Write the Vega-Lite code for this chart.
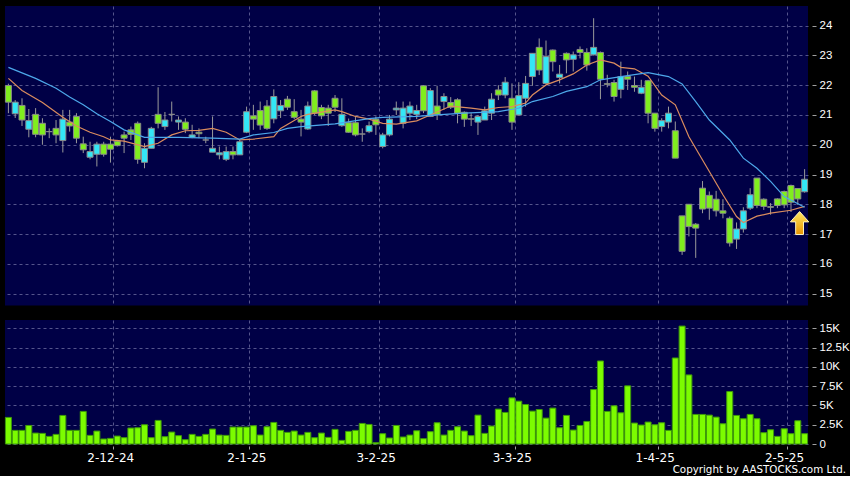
{
  "$schema": "https://vega.github.io/schema/vega-lite/v6.json",
  "background": "#000000",
  "padding": {"left": 4, "top": 6, "right": 0, "bottom": 0},
  "config": {
    "view": {"fill": "#000046", "stroke": null},
    "font": "DejaVu Sans",
    "axis": {"labelColor": "#ffffff", "labelFont": "DejaVu Sans", "labelFontSize": 11, "gridColor": "#55558c", "gridDash": [3, 3], "gridWidth": 1, "tickColor": "#a0a0a0", "domain": false}
  },
  "datasets": {
    "candles": [
      {"date": "2024-11-08", "o": 21.99, "h": 22.05, "l": 21.06, "c": 21.43, "v": 3450},
      {"date": "2024-11-11", "o": 21.04, "h": 21.5, "l": 20.9, "c": 21.43, "v": 1770},
      {"date": "2024-11-12", "o": 21.32, "h": 21.56, "l": 20.63, "c": 20.83, "v": 1770},
      {"date": "2024-11-13", "o": 20.52, "h": 21.2, "l": 20.25, "c": 20.81, "v": 2410},
      {"date": "2024-11-14", "o": 21.02, "h": 21.23, "l": 20.25, "c": 20.35, "v": 1420},
      {"date": "2024-11-15", "o": 20.72, "h": 20.89, "l": 20.0, "c": 20.33, "v": 1380},
      {"date": "2024-11-18", "o": 20.44, "h": 20.55, "l": 20.22, "c": 20.44, "v": 990},
      {"date": "2024-11-19", "o": 20.55, "h": 20.83, "l": 20.05, "c": 20.33, "v": 1250},
      {"date": "2024-11-20", "o": 20.14, "h": 21.17, "l": 19.74, "c": 20.86, "v": 3710},
      {"date": "2024-11-21", "o": 20.76, "h": 21.17, "l": 20.44, "c": 20.63, "v": 1770},
      {"date": "2024-11-22", "o": 20.95, "h": 21.06, "l": 20.05, "c": 20.22, "v": 1770},
      {"date": "2024-11-25", "o": 20.03, "h": 20.27, "l": 19.72, "c": 19.83, "v": 4230},
      {"date": "2024-11-26", "o": 19.58, "h": 20.1, "l": 19.51, "c": 19.77, "v": 1120},
      {"date": "2024-11-27", "o": 19.68, "h": 20.1, "l": 19.27, "c": 20.02, "v": 1680},
      {"date": "2024-11-28", "o": 20.02, "h": 20.1, "l": 19.6, "c": 19.68, "v": 650},
      {"date": "2024-11-29", "o": 20.02, "h": 20.27, "l": 19.4, "c": 19.85, "v": 730},
      {"date": "2024-12-02", "o": 20.12, "h": 20.16, "l": 19.94, "c": 19.97, "v": 1030},
      {"date": "2024-12-03", "o": 20.33, "h": 20.44, "l": 19.72, "c": 20.22, "v": 820},
      {"date": "2024-12-04", "o": 20.5, "h": 20.61, "l": 20.16, "c": 20.35, "v": 2070},
      {"date": "2024-12-05", "o": 20.72, "h": 20.78, "l": 19.36, "c": 19.51, "v": 2110},
      {"date": "2024-12-06", "o": 19.41, "h": 20.05, "l": 19.21, "c": 19.88, "v": 2500},
      {"date": "2024-12-09", "o": 19.88, "h": 20.6, "l": 19.88, "c": 20.55, "v": 820},
      {"date": "2024-12-10", "o": 21.02, "h": 21.93, "l": 20.55, "c": 20.72, "v": 3060},
      {"date": "2024-12-11", "o": 20.61, "h": 21.1, "l": 20.5, "c": 20.83, "v": 950},
      {"date": "2024-12-12", "o": 21.02, "h": 21.45, "l": 20.78, "c": 21.02, "v": 1550},
      {"date": "2024-12-13", "o": 20.76, "h": 20.95, "l": 20.5, "c": 20.83, "v": 1080},
      {"date": "2024-12-16", "o": 20.76, "h": 20.89, "l": 20.39, "c": 20.52, "v": 560},
      {"date": "2024-12-17", "o": 20.25, "h": 20.67, "l": 20.22, "c": 20.33, "v": 1250},
      {"date": "2024-12-18", "o": 20.42, "h": 20.55, "l": 20.22, "c": 20.37, "v": 990},
      {"date": "2024-12-19", "o": 20.16, "h": 20.27, "l": 20.05, "c": 20.16, "v": 1250},
      {"date": "2024-12-20", "o": 19.75, "h": 20.95, "l": 19.75, "c": 19.88, "v": 1940},
      {"date": "2024-12-23", "o": 19.66, "h": 19.94, "l": 19.51, "c": 19.73, "v": 1160},
      {"date": "2024-12-24", "o": 19.51, "h": 19.94, "l": 19.45, "c": 19.77, "v": 1120},
      {"date": "2024-12-27", "o": 19.77, "h": 19.94, "l": 19.51, "c": 19.66, "v": 2200},
      {"date": "2024-12-30", "o": 19.66, "h": 20.16, "l": 19.66, "c": 20.1, "v": 2200},
      {"date": "2024-12-31", "o": 20.42, "h": 21.28, "l": 20.39, "c": 21.11, "v": 2200},
      {"date": "2025-01-02", "o": 20.97, "h": 21.34, "l": 20.5, "c": 20.86, "v": 2370},
      {"date": "2025-01-03", "o": 21.15, "h": 21.45, "l": 20.5, "c": 20.66, "v": 1160},
      {"date": "2025-01-06", "o": 21.3, "h": 21.5, "l": 20.5, "c": 20.55, "v": 2240},
      {"date": "2025-01-07", "o": 20.87, "h": 21.86, "l": 20.72, "c": 21.62, "v": 2800},
      {"date": "2025-01-08", "o": 21.14, "h": 21.5, "l": 20.9, "c": 21.32, "v": 1770},
      {"date": "2025-01-09", "o": 21.53, "h": 21.64, "l": 21.17, "c": 21.26, "v": 1510},
      {"date": "2025-01-10", "o": 21.11, "h": 21.53, "l": 20.86, "c": 20.92, "v": 1680},
      {"date": "2025-01-13", "o": 20.86, "h": 21.17, "l": 20.28, "c": 20.76, "v": 1160},
      {"date": "2025-01-14", "o": 20.53, "h": 21.45, "l": 20.5, "c": 21.3, "v": 1510},
      {"date": "2025-01-15", "o": 21.81, "h": 21.84, "l": 21.0, "c": 21.06, "v": 820},
      {"date": "2025-01-16", "o": 21.25, "h": 21.34, "l": 20.86, "c": 20.97, "v": 1420},
      {"date": "2025-01-17", "o": 21.23, "h": 21.34, "l": 20.63, "c": 21.06, "v": 860},
      {"date": "2025-01-20", "o": 21.56, "h": 21.67, "l": 21.1, "c": 21.26, "v": 1900},
      {"date": "2025-01-21", "o": 20.64, "h": 21.56, "l": 20.6, "c": 21.02, "v": 470},
      {"date": "2025-01-22", "o": 20.74, "h": 20.88, "l": 20.4, "c": 20.42, "v": 1640},
      {"date": "2025-01-23", "o": 20.74, "h": 20.93, "l": 20.28, "c": 20.33, "v": 1770},
      {"date": "2025-01-24", "o": 20.36, "h": 20.55, "l": 20.1, "c": 20.36, "v": 2670},
      {"date": "2025-01-27", "o": 20.44, "h": 20.78, "l": 20.39, "c": 20.64, "v": 2540},
      {"date": "2025-01-28", "o": 20.86, "h": 20.95, "l": 20.33, "c": 20.67, "v": 170},
      {"date": "2025-02-03", "o": 19.94, "h": 20.4, "l": 19.88, "c": 20.33, "v": 1340},
      {"date": "2025-02-04", "o": 20.33, "h": 21.0, "l": 20.28, "c": 20.86, "v": 780},
      {"date": "2025-02-05", "o": 21.17, "h": 21.45, "l": 21.0, "c": 21.23, "v": 2410},
      {"date": "2025-02-06", "o": 20.72, "h": 21.45, "l": 20.55, "c": 21.23, "v": 910},
      {"date": "2025-02-07", "o": 21.06, "h": 21.45, "l": 20.83, "c": 21.3, "v": 1160},
      {"date": "2025-02-10", "o": 21.02, "h": 21.34, "l": 20.86, "c": 21.15, "v": 1720},
      {"date": "2025-02-11", "o": 21.98, "h": 22.0, "l": 21.06, "c": 21.14, "v": 690},
      {"date": "2025-02-12", "o": 20.95, "h": 21.9, "l": 20.93, "c": 21.82, "v": 1600},
      {"date": "2025-02-13", "o": 21.3, "h": 21.98, "l": 20.83, "c": 21.02, "v": 2760},
      {"date": "2025-02-14", "o": 21.45, "h": 21.73, "l": 21.17, "c": 21.62, "v": 1160},
      {"date": "2025-02-17", "o": 21.42, "h": 21.6, "l": 21.2, "c": 21.26, "v": 1770},
      {"date": "2025-02-18", "o": 21.51, "h": 21.56, "l": 20.72, "c": 21.06, "v": 2240},
      {"date": "2025-02-19", "o": 21.09, "h": 21.12, "l": 20.6, "c": 20.86, "v": 1680},
      {"date": "2025-02-20", "o": 20.87, "h": 21.06, "l": 20.63, "c": 20.86, "v": 1080},
      {"date": "2025-02-21", "o": 20.76, "h": 21.0, "l": 20.33, "c": 20.95, "v": 3750},
      {"date": "2025-02-24", "o": 20.83, "h": 21.28, "l": 20.83, "c": 21.14, "v": 1380},
      {"date": "2025-02-25", "o": 21.06, "h": 21.73, "l": 20.83, "c": 21.53, "v": 2330},
      {"date": "2025-02-26", "o": 21.84, "h": 22.0, "l": 21.5, "c": 21.67, "v": 4530},
      {"date": "2025-02-27", "o": 21.67, "h": 22.27, "l": 21.56, "c": 22.1, "v": 4100},
      {"date": "2025-02-28", "o": 21.56, "h": 22.06, "l": 20.5, "c": 20.76, "v": 5990},
      {"date": "2025-03-03", "o": 21.0, "h": 22.1, "l": 21.0, "c": 21.65, "v": 5560},
      {"date": "2025-03-04", "o": 21.56, "h": 22.31, "l": 21.28, "c": 22.06, "v": 5130},
      {"date": "2025-03-05", "o": 22.29, "h": 23.07, "l": 21.98, "c": 23.07, "v": 4270},
      {"date": "2025-03-06", "o": 23.27, "h": 23.57, "l": 22.34, "c": 22.51, "v": 4480},
      {"date": "2025-03-07", "o": 22.06, "h": 23.5, "l": 22.06, "c": 22.96, "v": 3360},
      {"date": "2025-03-10", "o": 23.18, "h": 23.2, "l": 22.46, "c": 22.79, "v": 4660},
      {"date": "2025-03-11", "o": 22.26, "h": 22.68, "l": 22.06, "c": 22.37, "v": 2110},
      {"date": "2025-03-12", "o": 23.07, "h": 23.1, "l": 22.4, "c": 22.85, "v": 3710},
      {"date": "2025-03-13", "o": 22.87, "h": 23.13, "l": 22.46, "c": 23.02, "v": 1810},
      {"date": "2025-03-14", "o": 23.2, "h": 23.3, "l": 22.9, "c": 23.1, "v": 2410},
      {"date": "2025-03-17", "o": 23.1, "h": 23.24, "l": 22.49, "c": 22.68, "v": 2930},
      {"date": "2025-03-18", "o": 23.02, "h": 24.25, "l": 23.0, "c": 23.27, "v": 7070},
      {"date": "2025-03-19", "o": 23.1, "h": 23.13, "l": 21.53, "c": 22.2, "v": 10780},
      {"date": "2025-03-20", "o": 22.05, "h": 22.35, "l": 21.93, "c": 22.03, "v": 4230},
      {"date": "2025-03-21", "o": 22.09, "h": 22.18, "l": 21.45, "c": 21.62, "v": 4960},
      {"date": "2025-03-24", "o": 21.86, "h": 22.79, "l": 21.56, "c": 22.29, "v": 4050},
      {"date": "2025-03-25", "o": 22.29, "h": 22.46, "l": 21.84, "c": 22.2, "v": 7550},
      {"date": "2025-03-26", "o": 21.99, "h": 22.29, "l": 21.78, "c": 21.93, "v": 2720},
      {"date": "2025-03-27", "o": 21.73, "h": 22.18, "l": 21.7, "c": 21.93, "v": 2460},
      {"date": "2025-03-28", "o": 22.15, "h": 22.18, "l": 20.72, "c": 21.06, "v": 2850},
      {"date": "2025-03-31", "o": 21.06, "h": 21.06, "l": 20.44, "c": 20.55, "v": 2500},
      {"date": "2025-04-01", "o": 20.61, "h": 20.89, "l": 20.44, "c": 20.81, "v": 2760},
      {"date": "2025-04-02", "o": 20.76, "h": 21.28, "l": 20.55, "c": 21.06, "v": 1770},
      {"date": "2025-04-03", "o": 20.47, "h": 20.78, "l": 19.55, "c": 19.55, "v": 11170},
      {"date": "2025-04-07", "o": 17.61, "h": 17.61, "l": 16.3, "c": 16.42, "v": 15310},
      {"date": "2025-04-08", "o": 18.0, "h": 18.0, "l": 16.92, "c": 17.25, "v": 8970},
      {"date": "2025-04-09", "o": 17.33, "h": 17.37, "l": 16.2, "c": 17.2, "v": 3840},
      {"date": "2025-04-10", "o": 18.54, "h": 18.78, "l": 17.7, "c": 17.84, "v": 3840},
      {"date": "2025-04-11", "o": 18.3, "h": 18.43, "l": 17.48, "c": 17.87, "v": 3750},
      {"date": "2025-04-14", "o": 18.17, "h": 18.45, "l": 17.59, "c": 17.78, "v": 3490},
      {"date": "2025-04-15", "o": 17.78, "h": 18.17, "l": 17.53, "c": 17.7, "v": 2630},
      {"date": "2025-04-16", "o": 17.53, "h": 17.59, "l": 16.58, "c": 16.7, "v": 6810},
      {"date": "2025-04-17", "o": 16.83, "h": 17.39, "l": 16.5, "c": 17.17, "v": 3710},
      {"date": "2025-04-22", "o": 17.17, "h": 17.9, "l": 17.05, "c": 17.78, "v": 3280},
      {"date": "2025-04-23", "o": 17.87, "h": 18.54, "l": 17.81, "c": 18.32, "v": 3840},
      {"date": "2025-04-24", "o": 18.88, "h": 18.88, "l": 17.87, "c": 17.96, "v": 3280},
      {"date": "2025-04-25", "o": 18.17, "h": 18.2, "l": 17.81, "c": 17.93, "v": 1470},
      {"date": "2025-04-28", "o": 17.92, "h": 18.04, "l": 17.65, "c": 17.9, "v": 1850},
      {"date": "2025-04-29", "o": 18.18, "h": 18.2, "l": 17.87, "c": 17.96, "v": 990},
      {"date": "2025-04-30", "o": 18.43, "h": 18.46, "l": 17.87, "c": 17.98, "v": 1980},
      {"date": "2025-05-02", "o": 18.63, "h": 18.66, "l": 17.74, "c": 18.07, "v": 1340},
      {"date": "2025-05-06", "o": 18.53, "h": 18.54, "l": 17.98, "c": 18.18, "v": 3020},
      {"date": "2025-05-07", "o": 18.42, "h": 19.18, "l": 18.39, "c": 18.84, "v": 1340}
    ],
    "ma": [
      {"date": "2024-11-08", "series": "MA10", "value": 22.23},
      {"date": "2024-11-12", "series": "MA10", "value": 21.82},
      {"date": "2024-11-15", "series": "MA10", "value": 21.42},
      {"date": "2024-11-20", "series": "MA10", "value": 20.92},
      {"date": "2024-11-22", "series": "MA10", "value": 20.63},
      {"date": "2024-11-26", "series": "MA10", "value": 20.42},
      {"date": "2024-11-28", "series": "MA10", "value": 20.27},
      {"date": "2024-11-29", "series": "MA10", "value": 20.16},
      {"date": "2024-12-03", "series": "MA10", "value": 20.12},
      {"date": "2024-12-06", "series": "MA10", "value": 19.94},
      {"date": "2024-12-10", "series": "MA10", "value": 20.05},
      {"date": "2024-12-12", "series": "MA10", "value": 20.33},
      {"date": "2024-12-16", "series": "MA10", "value": 20.47},
      {"date": "2024-12-18", "series": "MA10", "value": 20.48},
      {"date": "2024-12-20", "series": "MA10", "value": 20.55},
      {"date": "2024-12-24", "series": "MA10", "value": 20.42},
      {"date": "2024-12-30", "series": "MA10", "value": 20.16},
      {"date": "2025-01-02", "series": "MA10", "value": 20.19},
      {"date": "2025-01-07", "series": "MA10", "value": 20.27},
      {"date": "2025-01-08", "series": "MA10", "value": 20.55},
      {"date": "2025-01-13", "series": "MA10", "value": 20.95},
      {"date": "2025-01-14", "series": "MA10", "value": 21.02},
      {"date": "2025-01-20", "series": "MA10", "value": 21.17},
      {"date": "2025-01-21", "series": "MA10", "value": 21.11},
      {"date": "2025-01-23", "series": "MA10", "value": 20.95},
      {"date": "2025-01-27", "series": "MA10", "value": 20.86},
      {"date": "2025-02-03", "series": "MA10", "value": 20.72},
      {"date": "2025-02-05", "series": "MA10", "value": 20.69},
      {"date": "2025-02-10", "series": "MA10", "value": 20.8},
      {"date": "2025-02-13", "series": "MA10", "value": 21.1},
      {"date": "2025-02-17", "series": "MA10", "value": 21.3},
      {"date": "2025-02-20", "series": "MA10", "value": 21.23},
      {"date": "2025-02-24", "series": "MA10", "value": 21.17},
      {"date": "2025-02-26", "series": "MA10", "value": 21.25},
      {"date": "2025-02-28", "series": "MA10", "value": 21.28},
      {"date": "2025-03-04", "series": "MA10", "value": 21.4},
      {"date": "2025-03-05", "series": "MA10", "value": 21.67},
      {"date": "2025-03-07", "series": "MA10", "value": 22.01},
      {"date": "2025-03-11", "series": "MA10", "value": 22.18},
      {"date": "2025-03-13", "series": "MA10", "value": 22.38},
      {"date": "2025-03-17", "series": "MA10", "value": 22.68},
      {"date": "2025-03-19", "series": "MA10", "value": 22.85},
      {"date": "2025-03-21", "series": "MA10", "value": 22.74},
      {"date": "2025-03-24", "series": "MA10", "value": 22.6},
      {"date": "2025-03-26", "series": "MA10", "value": 22.55},
      {"date": "2025-03-28", "series": "MA10", "value": 22.3},
      {"date": "2025-04-01", "series": "MA10", "value": 21.67},
      {"date": "2025-04-03", "series": "MA10", "value": 21.34},
      {"date": "2025-04-08", "series": "MA10", "value": 20.27},
      {"date": "2025-04-11", "series": "MA10", "value": 19.1},
      {"date": "2025-04-15", "series": "MA10", "value": 18.32},
      {"date": "2025-04-17", "series": "MA10", "value": 17.59},
      {"date": "2025-04-22", "series": "MA10", "value": 17.39},
      {"date": "2025-04-24", "series": "MA10", "value": 17.6},
      {"date": "2025-04-28", "series": "MA10", "value": 17.7},
      {"date": "2025-05-02", "series": "MA10", "value": 17.8},
      {"date": "2025-05-07", "series": "MA10", "value": 17.93},
      {"date": "2024-11-08", "series": "MA20", "value": 22.6},
      {"date": "2024-11-14", "series": "MA20", "value": 22.23},
      {"date": "2024-11-19", "series": "MA20", "value": 21.9},
      {"date": "2024-11-21", "series": "MA20", "value": 21.6},
      {"date": "2024-11-25", "series": "MA20", "value": 21.34},
      {"date": "2024-11-27", "series": "MA20", "value": 21.04},
      {"date": "2024-11-29", "series": "MA20", "value": 20.78},
      {"date": "2024-12-03", "series": "MA20", "value": 20.5},
      {"date": "2024-12-06", "series": "MA20", "value": 20.25},
      {"date": "2024-12-13", "series": "MA20", "value": 20.25},
      {"date": "2024-12-20", "series": "MA20", "value": 20.22},
      {"date": "2024-12-30", "series": "MA20", "value": 20.19},
      {"date": "2025-01-02", "series": "MA20", "value": 20.33},
      {"date": "2025-01-07", "series": "MA20", "value": 20.41},
      {"date": "2025-01-09", "series": "MA20", "value": 20.55},
      {"date": "2025-01-13", "series": "MA20", "value": 20.61},
      {"date": "2025-01-20", "series": "MA20", "value": 20.7},
      {"date": "2025-01-27", "series": "MA20", "value": 20.88},
      {"date": "2025-02-03", "series": "MA20", "value": 20.92},
      {"date": "2025-02-10", "series": "MA20", "value": 20.95},
      {"date": "2025-02-13", "series": "MA20", "value": 21.0},
      {"date": "2025-02-19", "series": "MA20", "value": 21.06},
      {"date": "2025-02-26", "series": "MA20", "value": 21.11},
      {"date": "2025-03-03", "series": "MA20", "value": 21.23},
      {"date": "2025-03-05", "series": "MA20", "value": 21.45},
      {"date": "2025-03-10", "series": "MA20", "value": 21.62},
      {"date": "2025-03-12", "series": "MA20", "value": 21.79},
      {"date": "2025-03-17", "series": "MA20", "value": 21.95},
      {"date": "2025-03-19", "series": "MA20", "value": 22.18},
      {"date": "2025-03-24", "series": "MA20", "value": 22.29},
      {"date": "2025-03-28", "series": "MA20", "value": 22.42},
      {"date": "2025-04-02", "series": "MA20", "value": 22.29},
      {"date": "2025-04-07", "series": "MA20", "value": 22.04},
      {"date": "2025-04-09", "series": "MA20", "value": 21.45},
      {"date": "2025-04-11", "series": "MA20", "value": 20.83},
      {"date": "2025-04-16", "series": "MA20", "value": 20.16},
      {"date": "2025-04-22", "series": "MA20", "value": 19.55},
      {"date": "2025-04-24", "series": "MA20", "value": 19.21},
      {"date": "2025-04-28", "series": "MA20", "value": 18.77},
      {"date": "2025-04-30", "series": "MA20", "value": 18.26},
      {"date": "2025-05-07", "series": "MA20", "value": 17.9}
    ],
    "signal": [
      {"date": "2025-05-07", "price": 17.37}
    ]
  },
  "title": {
    "text": "Copyright by AASTOCKS.com Ltd.",
    "orient": "bottom",
    "anchor": "end",
    "frame": "bounds",
    "color": "#ffffff",
    "font": "DejaVu Sans",
    "fontSize": 10.3,
    "fontWeight": "normal",
    "offset": 2,
    "dx": -3
  },
  "spacing": 14,
  "vconcat": [
    {
      "width": 803,
      "height": 299.5,
      "layer": [
        {
          "data": {"name": "candles"},
          "mark": {"type": "rule", "color": "#9a9a9a", "strokeWidth": 1},
          "encoding": {
            "x": {
              "field": "date", "type": "ordinal", "title": null,
              "scale": {"type": "band", "paddingInner": 0.12, "paddingOuter": 0.06},
              "axis": {"values": ["2024-12-02", "2025-01-02", "2025-02-03", "2025-03-03", "2025-04-01", "2025-05-02"], "labels": false, "ticks": false, "grid": true, "tickOffset": -4, "title": null}
            },
            "y": {
              "field": "l", "type": "quantitative", "title": null,
              "scale": {"domain": [14.6, 24.66], "nice": false, "zero": false},
              "axis": {"orient": "right", "values": [15, 16, 17, 18, 19, 20, 21, 22, 23, 24], "grid": true, "tickSize": 4, "offset": 4, "labelPadding": 3, "labelOverlap": false, "labelFont": "Liberation Sans", "labelFontSize": 11.5, "title": null}
            },
            "y2": {"field": "h"}
          }
        },
        {
          "data": {"name": "candles"},
          "mark": {"type": "bar", "stroke": "#8a8a8a", "strokeWidth": 1},
          "encoding": {
            "x": {"field": "date", "type": "ordinal", "title": null, "axis": {"values": ["2024-12-02", "2025-01-02", "2025-02-03", "2025-03-03", "2025-04-01", "2025-05-02"], "labels": false, "ticks": false, "grid": true, "tickOffset": -4, "title": null}},
            "y": {"field": "o", "type": "quantitative", "title": null, "axis": {"orient": "right", "values": [15, 16, 17, 18, 19, 20, 21, 22, 23, 24], "grid": true, "tickSize": 4, "offset": 4, "labelPadding": 3, "labelOverlap": false, "labelFont": "Liberation Sans", "labelFontSize": 11.5, "title": null}},
            "y2": {"field": "c"},
            "fill": {"condition": {"test": "datum.c > datum.o", "value": "#33E6F6"}, "value": "#80EE1E"}
          }
        },
        {
          "data": {"name": "ma"},
          "mark": {"type": "line", "strokeWidth": 1.2},
          "encoding": {
            "x": {"field": "date", "type": "ordinal", "title": null, "axis": {"values": ["2024-12-02", "2025-01-02", "2025-02-03", "2025-03-03", "2025-04-01", "2025-05-02"], "labels": false, "ticks": false, "grid": true, "tickOffset": -4, "title": null}},
            "y": {"field": "value", "type": "quantitative", "title": null, "axis": {"orient": "right", "values": [15, 16, 17, 18, 19, 20, 21, 22, 23, 24], "grid": true, "tickSize": 4, "offset": 4, "labelPadding": 3, "labelOverlap": false, "labelFont": "Liberation Sans", "labelFontSize": 11.5, "title": null}},
            "color": {"field": "series", "type": "nominal", "legend": null, "scale": {"domain": ["MA10", "MA20"], "range": ["#DA8C5E", "#4DA8EA"]}}
          }
        },
        {
          "data": {"name": "signal"},
          "mark": {
            "type": "point",
            "shape": "M0,-1L0.8,-0.1L0.34,-0.1L0.34,1L-0.34,1L-0.34,-0.1L-0.8,-0.1Z",
            "size": 529,
            "filled": true,
            "opacity": 1,
            "fill": {"gradient": "linear", "x1": 0, "y1": 0, "x2": 0, "y2": 1, "stops": [{"offset": 0, "color": "#FFE860"}, {"offset": 1, "color": "#E89400"}]},
            "stroke": "#FFF4C0",
            "strokeWidth": 1,
            "xOffset": -5
          },
          "encoding": {
            "x": {"field": "date", "type": "ordinal", "title": null, "axis": {"values": ["2024-12-02", "2025-01-02", "2025-02-03", "2025-03-03", "2025-04-01", "2025-05-02"], "labels": false, "ticks": false, "grid": true, "tickOffset": -4, "title": null}},
            "y": {"field": "price", "type": "quantitative", "title": null, "axis": {"orient": "right", "values": [15, 16, 17, 18, 19, 20, 21, 22, 23, 24], "grid": true, "tickSize": 4, "offset": 4, "labelPadding": 3, "labelOverlap": false, "labelFont": "Liberation Sans", "labelFontSize": 11.5, "title": null}}
          }
        }
      ]
    },
    {
      "width": 803,
      "height": 124,
      "data": {"name": "candles"},
      "mark": {"type": "bar", "fill": "#7CFC00", "stroke": "#3E9A0A", "strokeWidth": 1},
      "encoding": {
        "x": {
          "field": "date", "type": "ordinal", "title": null,
          "scale": {"type": "band", "paddingInner": 0.12, "paddingOuter": 0.06},
          "axis": {
            "values": ["2024-12-02", "2025-01-02", "2025-02-03", "2025-03-03", "2025-04-01", "2025-05-02"],
            "labelExpr": "toNumber(substring(datum.value,8,10)) + '-' + toNumber(substring(datum.value,5,7)) + '-' + substring(datum.value,2,4)",
            "grid": true, "tickOffset": -4, "labelOffset": -3, "tickSize": 3, "offset": 2, "labelPadding": 3, "labelAngle": 0, "labelFontSize": 12, "title": null
          }
        },
        "y": {
          "field": "v", "type": "quantitative", "title": null,
          "scale": {"domain": [0, 16100], "nice": false},
          "axis": {"orient": "right", "values": [0, 2500, 5000, 7500, 10000, 12500, 15000], "labelExpr": "datum.value == 0 ? '0' : (datum.value / 1000) + 'K'", "grid": true, "tickSize": 4, "offset": 4, "labelPadding": 3, "labelOverlap": false, "labelFont": "Liberation Sans", "labelFontSize": 11.5, "title": null}
        }
      }
    }
  ]
}
